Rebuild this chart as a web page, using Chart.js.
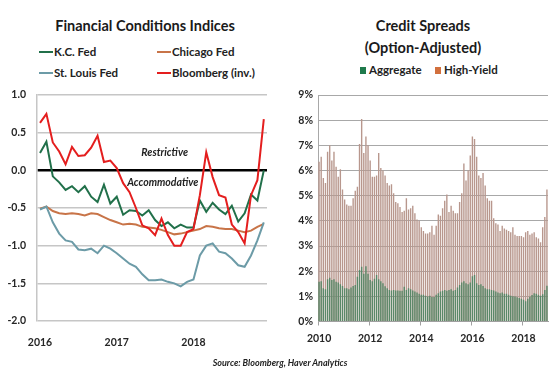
<!DOCTYPE html>
<html><head><meta charset="utf-8">
<script src="https://cdn.jsdelivr.net/npm/chart.js@4.4.1/dist/chart.umd.min.js"></script>
<style>
html,body{margin:0;padding:0;background:#fff;}
body{width:560px;height:376px;position:relative;overflow:hidden;font-family:Lato,"Open Sans",sans-serif;color:#222;}
.t{position:absolute;font-weight:bold;white-space:nowrap;transform:translate(-50%,-50%);font-size:14.5px;color:#1a1a1a;}
.lg{position:absolute;font-weight:bold;font-size:11.5px;white-space:nowrap;transform:translateY(-50%);color:#222;line-height:14px;}
.sw{display:inline-block;width:14px;height:2px;vertical-align:middle;margin-right:1px;position:relative;top:-1px;}
.sq{display:inline-block;width:6px;height:7px;margin-right:3px;vertical-align:middle;position:relative;top:-1px;}
canvas{position:absolute;}
#src{position:absolute;left:280px;top:362px;transform:translate(-50%,-50%);font-style:italic;font-weight:bold;font-size:9px;white-space:nowrap;color:#222;}
</style></head>
<body>
<div class="t" style="left:145px;top:25px;">Financial Conditions Indices</div>
<div class="lg" style="left:39px;top:52px;"><span class="sw" style="background:#21704a"></span>K.C. Fed</div>
<div class="lg" style="left:157px;top:52px;"><span class="sw" style="background:#c87448"></span>Chicago Fed</div>
<div class="lg" style="left:39px;top:73px;"><span class="sw" style="background:#6c9ba7"></span>St. Louis Fed</div>
<div class="lg" style="left:157px;top:73px;"><span class="sw" style="background:#e41e1e"></span>Bloomberg (inv.)</div>

<div class="t" style="left:423px;top:25px;">Credit Spreads</div>
<div class="t" style="left:423px;top:47px;">(Option-Adjusted)</div>
<div class="lg" style="left:360px;top:70px;"><span class="sq" style="background:#1f7a4c"></span>Aggregate</div>
<div class="lg" style="left:435px;top:70px;"><span class="sq" style="background:#d2703e"></span>High-Yield</div>

<canvas id="c1" width="280" height="272" style="left:0;top:85px;width:280px;height:272px;"></canvas>
<canvas id="c2" width="280" height="272" style="left:280px;top:85px;width:280px;height:272px;"></canvas>
<div id="src">Source: Bloomberg, Haver Analytics</div>

<script>
// ---------- Left chart data (monthly, Jan 2016 = 0) ----------
const monthIdx = [0,1,2,3,4,5,6,7,8,9,10,11,12,13,14,15,16,17,18,19,20,21,22,23,24,25,26,27,28,29,30,31,32,33,34,35];
const yearTicks = [0,12,24];
const yearTickLabels = ['2016','2017','2018'];
const kcFed = [0.23,0.38,-0.08,-0.16,-0.26,-0.21,-0.29,-0.21,-0.35,-0.42,-0.19,-0.44,-0.35,-0.59,-0.53,-0.54,-0.60,-0.53,-0.66,-0.74,-0.69,-0.77,-0.72,-0.76,-0.76,-0.40,-0.55,-0.43,-0.52,-0.58,-0.47,-0.68,-0.57,-0.32,-0.40,0.00];
const chicagoFed = [-0.51,-0.48,-0.54,-0.57,-0.58,-0.57,-0.58,-0.60,-0.57,-0.58,-0.62,-0.66,-0.69,-0.72,-0.71,-0.72,-0.75,-0.76,-0.77,-0.79,-0.82,-0.85,-0.84,-0.82,-0.80,-0.78,-0.74,-0.75,-0.77,-0.78,-0.78,-0.80,-0.82,-0.80,-0.75,-0.71];
const stLouisFed = [-0.52,-0.48,-0.69,-0.84,-0.93,-0.95,-1.05,-1.06,-1.04,-1.10,-1.00,-1.04,-1.10,-1.17,-1.24,-1.28,-1.38,-1.46,-1.46,-1.45,-1.48,-1.50,-1.54,-1.48,-1.45,-1.13,-1.00,-0.97,-1.08,-1.10,-1.17,-1.26,-1.28,-1.13,-0.93,-0.69];
const bloombergInv = [0.63,0.75,0.37,0.25,0.08,0.31,0.19,0.20,0.30,0.46,0.11,0.13,0.03,-0.17,-0.29,-0.50,-0.73,-0.77,-0.86,-0.64,-0.86,-1.00,-1.00,-0.82,-0.78,-0.33,0.24,-0.09,-0.33,-0.36,-0.72,-0.82,-0.97,-0.33,-0.13,0.68];

// ---------- Right chart data (monthly, 2010-2018) ----------
const years = [2010,2011,2012,2013,2014,2015,2016,2017,2018];
const monthsOfYear = ['01','02','03','04','05','06','07','08','09','10','11','12'];
const highYield = [
 6.35,6.55,5.70,5.50,6.75,7.00,6.40,6.75,6.15,5.75,6.05,5.25,
 4.85,4.65,4.60,4.60,4.90,5.20,5.35,7.05,8.05,6.70,7.35,7.00,
 6.40,5.75,5.75,5.80,6.70,6.10,6.00,5.80,5.50,5.40,5.45,5.10,
 4.75,4.70,4.55,4.35,4.40,4.90,4.45,4.50,4.60,4.30,4.05,4.00,
 3.75,3.60,3.50,3.50,3.55,3.80,3.45,3.80,4.25,4.20,4.50,4.80,
 5.05,4.35,4.60,4.40,4.30,4.30,4.75,5.10,6.28,5.60,6.00,6.60,
 7.35,7.25,6.55,5.80,5.70,5.90,5.40,4.90,4.80,4.80,4.10,3.90,
 3.85,3.60,3.80,3.70,3.65,3.60,3.55,3.75,3.45,3.40,3.40,3.40,
 3.35,3.55,3.60,3.45,3.50,3.55,3.35,3.30,3.15,3.75,4.15,5.25];
const aggregate = [
 1.58,1.60,1.32,1.28,1.68,1.74,1.65,1.68,1.58,1.55,1.48,1.41,
 1.32,1.32,1.28,1.35,1.41,1.45,1.78,2.05,2.18,1.90,2.20,1.90,
 1.65,1.60,1.70,1.85,1.68,1.60,1.52,1.40,1.32,1.25,1.23,1.25,
 1.23,1.23,1.22,1.22,1.38,1.25,1.32,1.28,1.23,1.19,1.15,1.10,
 1.06,1.06,1.02,0.99,1.02,0.97,0.97,1.06,1.12,1.19,1.22,1.25,
 1.22,1.25,1.28,1.22,1.25,1.35,1.45,1.55,1.60,1.52,1.48,1.55,
 1.80,1.85,1.52,1.45,1.48,1.41,1.32,1.28,1.28,1.25,1.23,1.19,
 1.15,1.12,1.15,1.10,1.10,1.06,1.02,1.00,0.99,0.96,0.93,0.90,
 0.86,0.80,0.90,0.98,1.05,1.12,1.10,1.06,1.02,1.08,1.25,1.42];
const spreadYTicks = [0,1,2,3,4,5,6,7,8,9];

const monthLabels = [];
years.forEach(y => monthsOfYear.forEach(m => monthLabels.push(y + '-' + m)));

Chart.defaults.font.family = 'Lato, "Open Sans", sans-serif';
const tickFont = {size: 10.5, weight: 'bold'};
const tickColor = '#262626';

const zoneLabels = {
  id: 'zoneLabels',
  afterDatasetsDraw(chart) {
    const {ctx, scales: {x, y}} = chart;
    ctx.save();
    ctx.font = 'italic bold 10.5px Lato, "Open Sans", sans-serif';
    ctx.fillStyle = '#222';
    ctx.textAlign = 'center';
    ctx.textBaseline = 'middle';
    ctx.fillText('Restrictive', x.getPixelForValue(19.5), y.getPixelForValue(0.23));
    ctx.fillText('Accommodative', x.getPixelForValue(19.2), y.getPixelForValue(-0.16));
    ctx.restore();
  }
};

const lineDs = (label, data, color, order) => ({
  label, data, borderColor: color, backgroundColor: color, borderWidth: 2,
  pointRadius: 0, tension: 0, fill: false, order
});

new Chart(document.getElementById('c1'), {
  type: 'line',
  data: {
    labels: monthIdx,
    datasets: [
      lineDs('K.C. Fed', kcFed, '#21704a', 4),
      lineDs('Chicago Fed', chicagoFed, '#c87448', 3),
      lineDs('St. Louis Fed', stLouisFed, '#6c9ba7', 2),
      lineDs('Bloomberg (inv.)', bloombergInv, '#e41e1e', 1)
    ]
  },
  options: {
    responsive: false, animation: false, devicePixelRatio: 1,
    layout: {padding: {top: 10, right: 13, left: 0, bottom: 0}},
    plugins: {legend: {display: false}, tooltip: {enabled: false}, title: {display: false}},
    scales: {
      x: {
        type: 'linear', min: -0.47, max: 35.5,
        afterBuildTicks: s => { s.ticks = yearTicks.map(v => ({value: v})); },
        ticks: {callback: (v) => yearTickLabels[yearTicks.indexOf(v)] || '', padding: 7, font: tickFont, color: tickColor, maxRotation: 0, autoSkip: false},
        grid: {display: false}, border: {display: false},
        afterFit: s => { s.height = 36; }
      },
      y: {
        min: -2, max: 1,
        ticks: {stepSize: 0.5, callback: v => v.toFixed(1), padding: 11, font: tickFont, color: tickColor},
        grid: {color: c => c.tick && c.tick.value === 0 ? '#000' : '#c6c6c6', lineWidth: c => c.tick && c.tick.value === 0 ? 2.5 : 1.5, drawTicks: false},
        border: {display: true, color: '#c6c6c6', width: 1.5},
        afterFit: s => { s.width = 37; s.paddingTop = 4; s.paddingBottom = 4; }
      }
    }
  },
  plugins: [zoneLabels]
});

new Chart(document.getElementById('c2'), {
  type: 'bar',
  data: {
    labels: monthLabels,
    datasets: [
      {label: 'Aggregate', data: aggregate, backgroundColor: '#5a8868', grouped: false, barPercentage: 0.65, categoryPercentage: 1},
      {label: 'High-Yield', data: highYield, backgroundColor: '#b8978d', grouped: false, barPercentage: 0.65, categoryPercentage: 1}
    ]
  },
  options: {
    responsive: false, animation: false, devicePixelRatio: 1,
    layout: {padding: {top: 10, right: 12, left: 0, bottom: 0}},
    plugins: {legend: {display: false}, tooltip: {enabled: false}},
    scales: {
      x: {
        ticks: {autoSkip: false, maxRotation: 0, minRotation: 0, padding: 7, font: tickFont, color: tickColor,
          callback: (v, i) => (monthLabels[i].endsWith('-01') && (years.indexOf(+monthLabels[i].slice(0, 4)) % 2 === 0)) ? monthLabels[i].slice(0, 4) : ''},
        grid: {drawOnChartArea: false, drawTicks: true, tickLength: 4, offset: true,
          color: c => (typeof c.index === 'number' && c.index < monthLabels.length && c.index % 24 === 0) ? '#a0a0a0' : 'rgba(0,0,0,0)'},
        border: {display: true, color: '#a0a0a0'},
        afterFit: s => { s.height = 35.5; }
      },
      y: {
        min: 0, max: 9,
        afterBuildTicks: s => { s.ticks = spreadYTicks.map(v => ({value: v})); },
        ticks: {callback: v => v + '%', padding: 5, font: tickFont, color: tickColor},
        grid: {color: '#a8a8a8', lineWidth: 1, drawTicks: false},
        border: {display: true, color: '#a8a8a8'},
        afterFit: s => { s.width = 38; s.paddingTop = 4; s.paddingBottom = 4; }
      }
    }
  }
});
</script>
</body></html>
